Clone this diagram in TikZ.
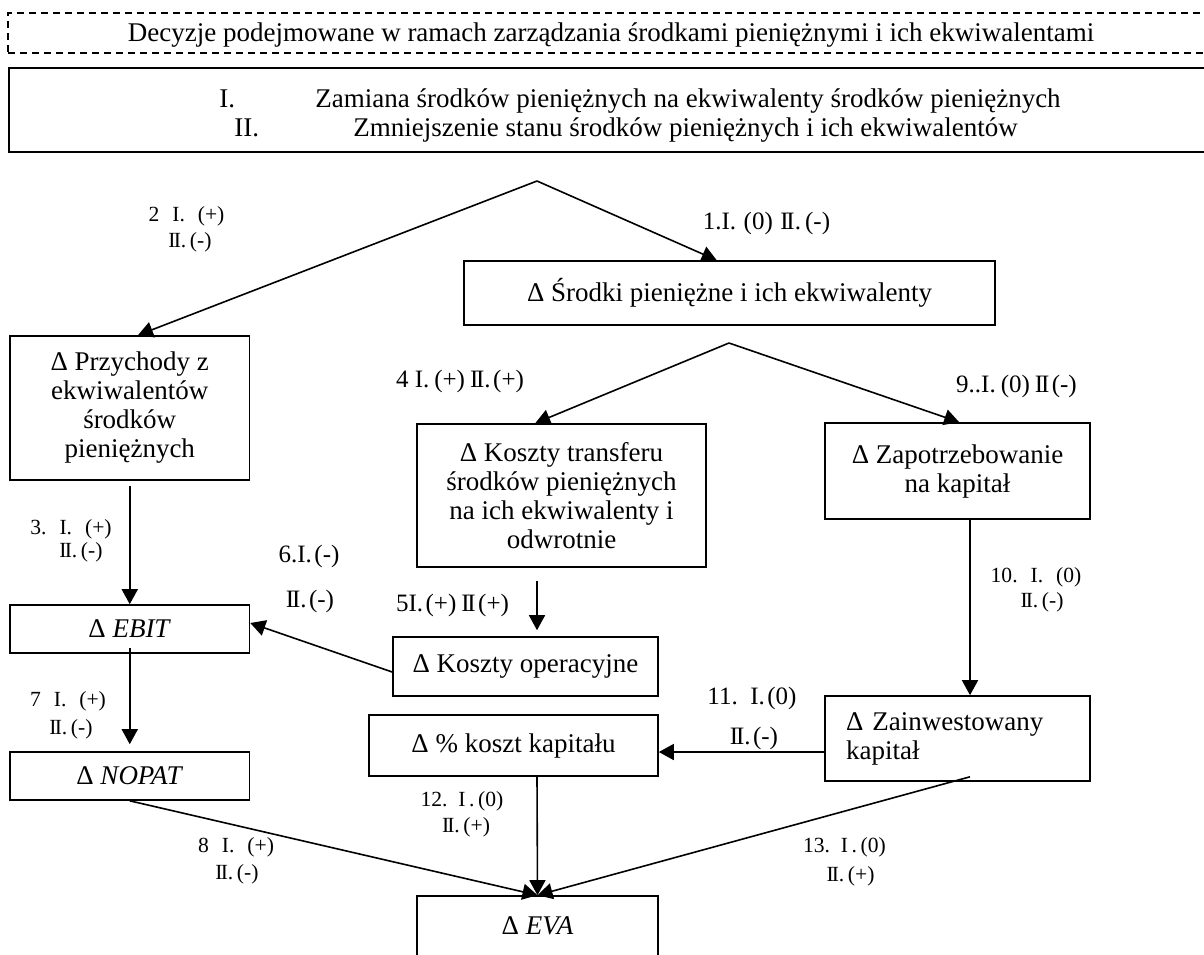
\documentclass[tikz,border=0pt]{standalone}
\usepackage{fontspec}
\setmainfont{Liberation Serif}
\usetikzlibrary{arrows.meta}
% text sizes used in the chart
\newcommand\boxtxt{\fontsize{13.5}{14.5}\selectfont}
\newcommand\labtxt{\fontsize{10.8}{12}\selectfont}
\newcommand\bigtxt{\fontsize{12.5}{13}\selectfont}
% roman two with joined serifs
\newcommand\RII{I\kern-0.09em I}

\begin{document}
\begin{tikzpicture}[x=0.5pt,y=-0.5pt,
  box/.style={draw, line width=0.8pt, inner sep=0pt, align=center, font=\boxtxt},
  txt/.style={font=\boxtxt, inner sep=0pt},
  lab/.style={font=\labtxt, inner sep=0pt, anchor=mid},
  big/.style={font=\bigtxt, inner sep=0pt, anchor=mid},
  arr/.style={line width=0.8pt, -{Triangle[length=7.5pt,width=8pt]}},
]
\useasboundingbox (0,0) rectangle (1204,954);

% heading and the two variants
\node[box, line width=0.6pt, dash pattern=on 3.5pt off 2.5pt,
      minimum width=603pt, minimum height=20pt] (hdr) at (611,33) {};
\node[txt, anchor=mid] (hdrtxt) at (611,37)
  {Decyzje podejmowane w ramach zarządzania środkami pieniężnymi i ich ekwiwalentami};

\node[box, line width=1.2pt, minimum width=602.5pt, minimum height=42pt] (opt) at (611.5,110) {};
\node[txt, anchor=mid west] (optIn) at (219,103) {I.};
\node[txt, anchor=mid west] (optI) at (315,103)
  {Zamiana środków pieniężnych na ekwiwalenty środków pieniężnych};
\node[txt, anchor=mid west] (optIIn) at (234,132) {II.};
\node[txt, anchor=mid west] (optII) at (353,132)
  {Zmniejszenie stanu środków pieniężnych i ich ekwiwalentów};

% boxes
\node[box, minimum width=265.5pt, minimum height=32pt] (sro) at (729.5,293)
  {Δ Środki pieniężne i ich ekwiwalenty};
\node[box, minimum width=119.75pt, minimum height=72pt] (prz) at (129.75,408)
  {Δ Przychody z\\ekwiwalentów\\środków\\pieniężnych};
\node[box, minimum width=144.5pt, minimum height=71.5pt] (kt) at (561.5,495.5)
  {Δ Koszty transferu\\środków pieniężnych\\na ich ekwiwalenty i\\odwrotnie};
\node[box, minimum width=132.5pt, minimum height=48pt] (zap) at (957.5,471)
  {Δ Zapotrzebowanie\\na kapitał};
\node[box, minimum width=119.75pt, minimum height=24pt] (ebit) at (129.75,629)
  {Δ \textit{EBIT}};
\node[box, minimum width=132.5pt, minimum height=29.5pt] (ko) at (525.5,666.5)
  {Δ Koszty operacyjne};
\node[box, minimum width=144.5pt, minimum height=30.5pt] (pk) at (513.5,745.5)
  {Δ \% koszt kapitału};
\node[box, align=left, text width=111.5pt, minimum width=132.5pt, minimum height=42.5pt]
  (zain) at (957.5,738.5) {Δ Zainwestowany\\kapitał};
\node[box, minimum width=119.75pt, minimum height=24pt] (nopat) at (129.75,776)
  {Δ \textit{NOPAT}};
\node[box, minimum width=120.5pt, minimum height=30pt] (eva) at (537.5,926)
  {Δ \textit{EVA}};

% branching points
\coordinate (v1) at (537,181);
\coordinate (v2) at (729,343);

% connectors
\draw[arr] (v1) -- ([xshift=4.1pt]prz.north);
\draw[arr] (v1) -- ([xshift=126.75pt]sro.north west);
\draw[arr] (v2) -- ([xshift=59.5pt]kt.north west);
\draw[arr] (v2) -- ([xshift=67.5pt]zap.north west);
\draw[arr, shorten <=2.5pt] (prz.south) -- (ebit.north);
\draw[arr, shorten <=6.5pt, shorten >=3pt] ([xshift=-12.25pt]kt.south) -- ([xshift=5.75pt]ko.north);
\draw[arr] ([yshift=-2.75pt]ko.west) -- ([yshift=3pt]ebit.east);
\draw[arr, shorten <=-3pt, shorten >=3.5pt] (ebit.south) -- (nopat.north);
\draw[arr] (nopat.south) -- (eva.north);
\draw[arr] ([xshift=11.75pt]pk.south) -- (eva.north);
\draw[arr] ([xshift=6.25pt,yshift=2.5pt]zain.south) -- (eva.north);
\draw[arr] ([xshift=6.25pt]zap.south) -- ([xshift=6.25pt]zain.north);
\draw[arr] ([yshift=-6.75pt]zain.west) -- ([yshift=-3.25pt]pk.east);

% connector labels
\node[big] (l1) at (766.5,225) {1.I.\hspace{.3em}(0)\hspace{.3em}\RII.\,(-)};
\node[lab] (l2a) at (186.5,217) {2\hspace{.6em}I.\hspace{.6em}(+)};
\node[lab] (l2b) at (190,243) {\RII.\,(-)};
\node[lab] (l3a) at (71,530) {3.\hspace{.6em}I.\hspace{.6em}(+)};
\node[lab] (l3b) at (81,553) {\RII.\,(-)};
\node[big] (l4) at (460,383) {4 I.\hspace{.2em}(+)\hspace{.2em}\RII.\hspace{.1em}(+)};
\node[big] (l9) at (1016.5,388) {9..I.\hspace{.2em}(0)\hspace{.2em}\RII\hspace{.1em}(-)};
\node[big] (l5) at (452.5,607) {5I.\hspace{.1em}(+)\hspace{.2em}\RII\hspace{.1em}(+)};
\node[big] (l6a) at (309,558) {6.I.\hspace{.1em}(-)};
\node[big] (l6b) at (310,603) {\RII.\hspace{.1em}(-)};
\node[lab] (l7a) at (68,702) {7\hspace{.6em}I.\hspace{.6em}(+)};
\node[lab] (l7b) at (71,730) {\RII.\,(-)};
\node[lab] (l8a) at (236,848) {8\hspace{.6em}I.\hspace{.6em}(+)};
\node[lab] (l8b) at (237,875) {\RII.\,(-)};
\node[lab] (l10a) at (1036,578) {10.\hspace{.6em}I.\hspace{.6em}(0)};
\node[lab] (l10b) at (1042,603) {\RII.\,(-)};
\node[big] (l11a) at (752,700) {11.\hspace{.5em}I.\hspace{.1em}(0)};
\node[big] (l11b) at (754,740) {\RII.\hspace{.1em}(-)};
\node[lab] (l12a) at (462,802) {12.\hspace{.5em}I\,.\,(0)};
\node[lab] (l12b) at (466,828) {\RII.\,(+)};
\node[lab] (l13a) at (844.5,848) {13.\hspace{.5em}I\,.\,(0)};
\node[lab] (l13b) at (850.5,877) {\RII.\,(+)};
\end{tikzpicture}
\end{document}
